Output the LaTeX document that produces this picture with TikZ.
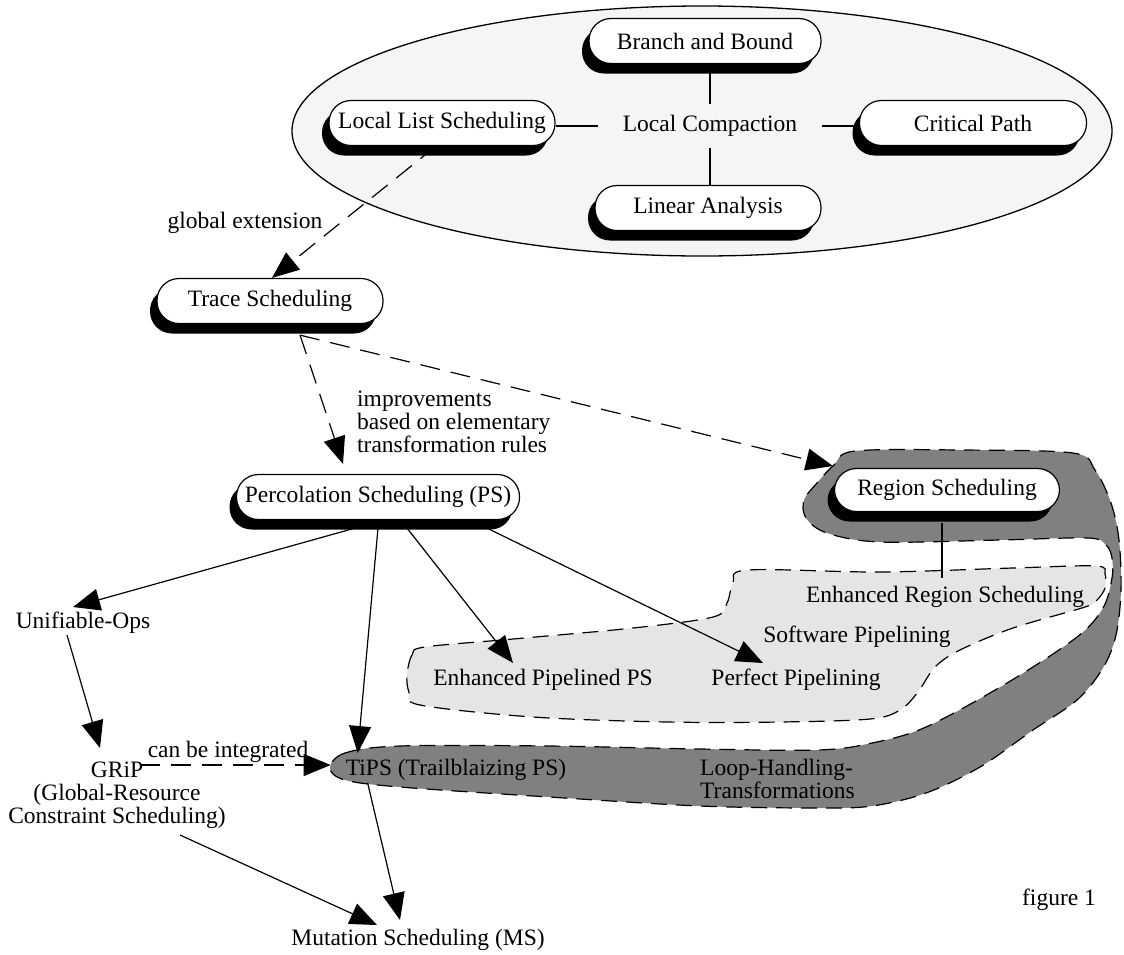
\documentclass[tikz,border=0pt]{standalone}
\usepackage{fontspec}
\setmainfont{Liberation Serif}
\usetikzlibrary{shapes.geometric,arrows.meta,calc,shadows}
\definecolor{ellfill}{gray}{0.96}
\definecolor{lightfill}{gray}{0.9}
\definecolor{darkfill}{gray}{0.5}
\begin{document}
\begin{tikzpicture}[x=1pt,y=-1pt,
  font=\fontsize{23.5pt}{23pt}\selectfont,
  box/.style={draw, line width=1.2pt, fill=white, rounded corners=22pt,
    minimum height=45pt, inner sep=0pt,
    drop shadow={shadow xshift=-7pt, shadow yshift=-10pt, fill=black, opacity=1}},
  lbl/.style={inner sep=0pt},
  arr/.style={line width=1.2pt, -{Triangle[length=27pt,width=22pt]}},
  darr/.style={arr, dash pattern=on 20pt off 11pt},
  plain/.style={line width=1.2pt},
  outline/.style={line width=1.2pt, dash pattern=on 16pt off 9pt}]
\useasboundingbox (0,0) rectangle (1124,954);

% background ellipse
\node[ellipse, draw, line width=1.3pt, fill=ellfill, minimum width=820pt, minimum height=250pt] (ell) at (702,131) {};

% light grey region
\draw[outline, fill=lightfill] plot[smooth cycle, tension=0.55] coordinates {
 (407,675) (412,655) (425,647) (513,639) (633,628) (713,617) (727,603) (733,583)
 (748,570) (880,572) (1013,568) (1096,566) (1105,574) (1105,588) (1097,600)
 (1085,607) (1013,628) (960,650) (935,667) (918,692) (900,710) (870,719)
 (780,722) (667,722) (533,717) (420,705) (409,692)};

% dark grey region
\draw[outline, fill=darkfill] plot[smooth cycle, tension=0.55] coordinates {
 (330,768) (345,753) (400,746) (549,746) (700,749) (818,750) (872,743)
 (926,727) (1007,683) (1077,637) (1103,608) (1112,578) (1112,558)
 (1106,545) (1088,538) (1000,540) (880,542) (827,533) (806,518) (804,500)
 (817,483) (834,465) (855,451) (960,450) (1073,453) (1095,470) (1111,503)
 (1119,540) (1121,590) (1116,635) (1103,668) (1077,700) (1033,730)
 (980,767) (926,793) (872,806) (818,808) (700,806) (549,797) (400,787)
 (345,780)};

% boxes
\node[box, minimum width=232pt] (bb) at (705,41) {Branch and Bound};
\node[box, minimum width=226pt] (lls) at (442,123) {Local List Scheduling};
\node[box, minimum width=227pt] (cp) at (973,123) {Critical Path};
\node[box, minimum width=226pt] (la) at (708,208) {Linear Analysis};
\node[lbl, inner xsep=25pt, minimum height=44pt] (lc) at (710,126) {Local Compaction};
\node[box, minimum width=226pt] (ts) at (270,301) {Trace Scheduling};
\node[box, minimum width=283pt] (ps) at (378,497) {Percolation Scheduling (PS)};
\node[box, minimum width=225pt, minimum height=43pt] (rs) at (947,490) {Region Scheduling};

% plain labels
\node[lbl] (uo) at (83,623) {Unifiable-Ops};
\node[lbl, align=center] (grip) at (117,795) {GRiP\\(Global-Resource\\Constraint Scheduling)};
\node[lbl] (tips) at (456,770) {TiPS (Trailblaizing PS)};
\node[lbl] (ers) at (945,597) {Enhanced Region Scheduling};
\node[lbl] (swp) at (857,637) {Software Pipelining};
\node[lbl] (epps) at (543,680) {Enhanced Pipelined PS};
\node[lbl] (pp) at (796,680) {Perfect Pipelining};
\node[lbl, align=left, anchor=west] (lht) at (700,779) {Loop-Handling-\\Transformations};
\node[lbl] (ms) at (418,940) {Mutation Scheduling (MS)};
\node[lbl] (fig) at (1059,900) {figure 1};
\node[lbl] (ge) at (245,223) {global extension};
\node[lbl, align=left, anchor=west] (imp) at (357,422) {improvements\\based on elementary\\transformation rules};
\node[lbl] (cbi) at (228,752) {can be integrated};

% local compaction links
\draw[plain] (lc.west) -- (lc.west -| lls.east);
\draw[plain] (lc.east) -- (lc.east -| cp.west);
\draw[plain] (lc.north) -- (lc.north |- bb.south);
\draw[plain] (lc.south) -- (lc.south |- la.north);

% connectors
\draw[darr] ($(lls.south)+(-6,0)$) -- ($(ts.north)+(2,0)$);
\draw[darr] ($(ts.south)+(30,11)$) -- ($(ps.north)+(-35,-10)$);
\draw[darr] ($(ts.south)+(30,11)$) -- ($(rs.west)+(-1,-24)$);
\draw[arr] ($(ps.south)+(-23,8)$) -- ($(uo.north)+(-10,-5)$);
\draw[arr] ($(ps.south)+(0,8)$) -- ($(tips.west)+(12,-17)$);
\draw[arr] ($(ps.south)+(29,8)$) -- ($(epps.center)+(-30,-17)$);
\draw[arr] ($(ps.south)+(109,8)$) -- ($(pp.center)+(-33,-17)$);
\draw[arr] ($(uo.center)+(-16,12)$) -- ($(grip.center)+(-17,-47)$);
\draw[darr] ($(grip.center)+(23,-30)$) -- ($(tips.west)+(-15,-5)$);
\draw[arr] ($(grip.center)+(63,40)$) -- ($(ms.center)+(-41,-15)$);
\draw[arr] ($(tips.west)+(22,13)$) -- ($(ms.center)+(-18,-20)$);
\draw[plain] ($(rs.south)+(-5,11)$) -- ($(ers.center)+(-3,-19)$);
\end{tikzpicture}
\end{document}
